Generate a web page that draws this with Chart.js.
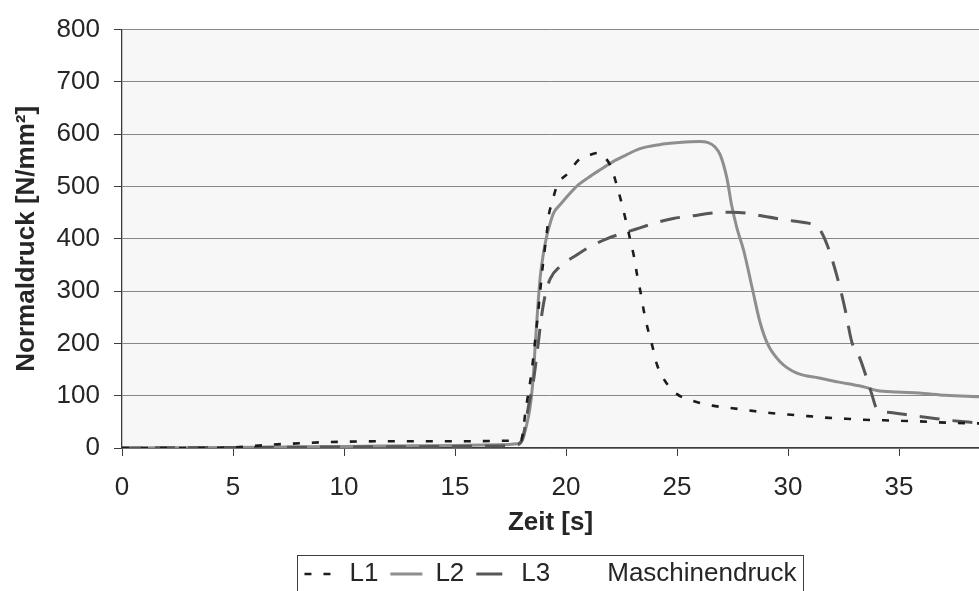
<!DOCTYPE html>
<html>
<head>
<meta charset="utf-8">
<script src="https://cdn.jsdelivr.net/npm/chart.js@4"></script>
<style>html,body{margin:0;padding:0;background:#fff;overflow:hidden}</style>
</head>
<body>
<canvas id="c" width="979" height="591"></canvas>
<script>
// ---- data ----
const seriesNames = ['L1', 'L2', 'L3', 'Maschinendruck'];

const timeL1 = [0, 3, 5, 6, 7, 8, 9, 10, 12, 14, 16, 17.5, 17.97, 18.2, 18.45, 18.68, 18.8, 18.9, 19.0, 19.13, 19.23, 19.35, 19.58, 20.1, 20.6, 21.0, 21.4, 21.7, 22.05, 22.28, 22.5, 22.7, 22.88, 23.06, 23.2, 23.36, 23.5, 23.68, 23.9, 24.1, 24.46, 25.0, 25.8, 26.6, 27.5, 28.4, 29.2, 30.0, 30.9, 31.7, 32.6, 33.4, 34.3, 35.1, 35.9, 36.8, 37.6, 38.6];
const druckL1 = [0, 0, 1, 4, 7, 9, 11, 12, 13, 13, 13, 14, 15, 78, 146, 234, 284, 328, 366, 410, 447, 466, 500, 526, 552, 559, 564, 558, 535, 503, 469, 434, 400, 366, 331, 297, 263, 228, 193, 159, 128, 103, 89, 81, 76, 71, 67, 64, 61, 58, 56, 54, 53, 52, 51, 49, 48, 47];

const timeL2 = [0, 5, 10, 15, 17, 17.8, 18.0, 18.2, 18.38, 18.53, 18.62, 18.72, 18.84, 18.98, 19.13, 19.3, 19.45, 19.73, 20.03, 20.55, 21.0, 21.5, 22.1, 22.7, 23.3, 24.2, 25.1, 26.0, 26.4, 26.7, 26.95, 27.25, 27.45, 27.7, 28.0, 28.4, 28.74, 29.1, 29.64, 30.4, 31.4, 32.3, 33.2, 33.5, 34.0, 34.9, 35.9, 37.1, 38.6];
const druckL2 = [0, 1, 3, 5, 6, 8, 12, 40, 78, 140, 203, 265, 328, 372, 405, 432, 450, 465, 480, 503, 517, 531, 547, 560, 572, 580, 584, 586, 584, 576, 560, 515, 466, 420, 378, 303, 240, 197, 165, 143, 134, 126, 119, 116, 110, 107, 105, 101, 98];

const timeL3 = [0, 5, 10, 15, 17, 17.8, 18.05, 18.3, 18.53, 18.72, 18.9, 19.05, 19.28, 19.73, 20.48, 21.0, 21.83, 22.73, 23.33, 24.08, 24.83, 25.73, 26.49, 27.5, 28.29, 29.04, 30.24, 31.0, 31.3, 31.5, 31.85, 32.27, 32.57, 32.87, 33.24, 33.54, 33.77, 34.0, 34.6, 35.6, 36.7, 37.7, 38.6];
const druckL3 = [0, 1, 2, 3, 4, 6, 20, 78, 128, 190, 253, 290, 323, 347, 369, 383, 400, 413, 421, 431, 439, 444, 449, 451, 448, 442, 434, 429, 424, 413, 378, 318, 265, 203, 171, 134, 103, 75, 68, 62, 56, 51, 48];

const timeMaschine = [];
const druckMaschine = [];

const xTickValues = [0, 5, 10, 15, 20, 25, 30, 35];
const yTickValues = [0, 100, 200, 300, 400, 500, 600, 700, 800];
const xMin = 0, xMax = 38.6, yMin = 0, yMax = 800;

// ---- styling ----
const FONT = "'Liberation Sans', Arial, Helvetica, sans-serif";
const FS = 26;
const TEXT = '#262626';
const AXIS = '#3c3c3c';
const GRID = '#878787';
const LEGEND_CENTER_Y = 574;
const legendDash = [[7, 12], [], [26, 6, 2, 20], []];

Chart.defaults.font.family = FONT;
Chart.defaults.font.size = FS;
Chart.defaults.color = TEXT;

const toXY = (xs, ys) => xs.map((x, i) => ({x: x, y: ys[i]}));

const plotBg = {
  id: 'plotBg',
  beforeDraw(chart) {
    const {ctx, chartArea: a} = chart;
    ctx.save();
    ctx.fillStyle = '#f7f7f7';
    ctx.fillRect(a.left, a.top, a.right - a.left, a.bottom - a.top);
    ctx.restore();
  }
};

const legendFrame = {
  id: 'legendFrame',
  afterLayout(chart) {
    const lg = chart.legend, a = chart.chartArea;
    const pad = lg.options.labels.padding;
    const dx = (a.left + a.right) / 2 - (lg.left + lg.right) / 2;
    const dy = LEGEND_CENTER_Y - (lg.top + pad + FS / 2);
    lg.left += dx; lg.right += dx;
    lg.top += dy; lg.bottom += dy;
  },
  afterDraw(chart) {
    const lg = chart.legend, ctx = chart.ctx;
    const pad = lg.options.labels.padding;
    const rowW = lg.lineWidths[0];
    const startX = (lg.left + pad + lg.right - rowW) / 2;
    const endX = startX + rowW - pad;
    const cy = lg.top + pad + FS / 2;
    ctx.save();
    ctx.strokeStyle = AXIS;
    ctx.lineWidth = 1;
    ctx.strokeRect(Math.round(startX - 7) + 0.5, Math.round(cy - 19) + 0.5, Math.round(endX - startX + 14), 60);
    ctx.restore();
  }
};

new Chart(document.getElementById('c'), {
  type: 'line',
  data: {
    datasets: [
      {label: seriesNames[0], data: toXY(timeL1, druckL1), borderColor: '#1c1c1c', borderWidth: 2.6, borderDash: [7, 12], pointRadius: 0, cubicInterpolationMode: 'monotone', order: 0},
      {label: seriesNames[1], data: toXY(timeL2, druckL2), borderColor: '#8e8e8e', borderWidth: 3, pointRadius: 0, cubicInterpolationMode: 'monotone', order: 2},
      {label: seriesNames[2], data: toXY(timeL3, druckL3), borderColor: '#575757', borderWidth: 3, borderDash: [20, 13], pointRadius: 0, cubicInterpolationMode: 'monotone', order: 1},
      {label: seriesNames[3], data: toXY(timeMaschine, druckMaschine), borderColor: 'rgba(0,0,0,0)', borderWidth: 0, pointRadius: 0, order: 3}
    ]
  },
  options: {
    responsive: false,
    animation: false,
    events: [],
    layout: {padding: {top: 22, right: 0, bottom: 0, left: 0}},
    scales: {
      x: {
        type: 'linear', min: xMin, max: xMax,
        afterBuildTicks: s => { s.ticks = xTickValues.map(v => ({value: v})); },
        afterFit: s => { s.height = 95; },
        grid: {drawOnChartArea: false, drawTicks: true, tickLength: 8, tickColor: AXIS, color: AXIS},
        border: {color: AXIS, width: 1.3},
        ticks: {padding: 16, maxRotation: 0, autoSkip: false, color: TEXT, font: {size: FS}},
        title: {display: true, text: 'Zeit [s]', color: TEXT, font: {size: FS, weight: 'bold'}, padding: {top: 0, bottom: 5}}
      },
      y: {
        min: yMin, max: yMax,
        afterBuildTicks: s => { s.ticks = yTickValues.map(v => ({value: v})); },
        afterFit: s => { s.width = 122; },
        grid: {color: GRID, lineWidth: 1, drawTicks: true, tickLength: 8, tickColor: AXIS},
        border: {color: AXIS, width: 1.3},
        ticks: {padding: 14, color: TEXT, font: {size: FS}},
        title: {display: true, text: 'Normaldruck [N/mm²]', color: TEXT, font: {size: FS, weight: 'bold'}, padding: {top: 11, bottom: 0}}
      }
    },
    plugins: {
      tooltip: {enabled: false},
      legend: {
        position: 'bottom',
        labels: {
          usePointStyle: true,
          pointStyle: 'line',
          pointStyleWidth: 32,
          padding: 12,
          color: TEXT,
          font: {size: FS},
          generateLabels: chart => chart.data.datasets.map((ds, i) => ({
            text: ds.label,
            datasetIndex: i,
            fillStyle: 'rgba(0,0,0,0)',
            strokeStyle: ds.borderColor,
            lineWidth: ds.borderWidth,
            lineDash: legendDash[i],
            lineCap: 'butt',
            pointStyle: 'line',
            hidden: false,
            fontColor: TEXT
          }))
        }
      }
    }
  },
  plugins: [plotBg, legendFrame]
});
</script>
</body>
</html>
